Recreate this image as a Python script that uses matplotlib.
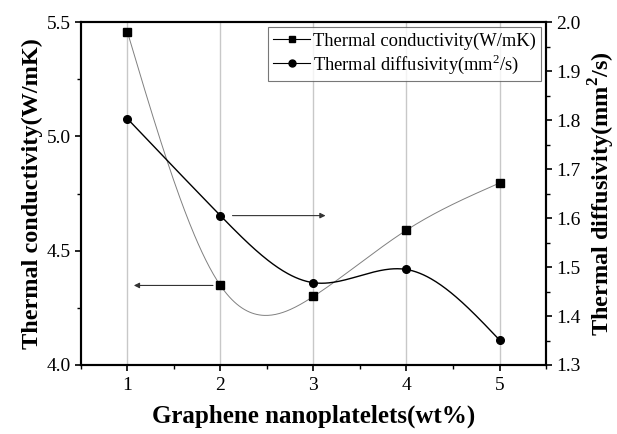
import matplotlib
matplotlib.use('Agg')
import matplotlib.pyplot as plt
from matplotlib.lines import Line2D
from matplotlib.ticker import MultipleLocator
import numpy as np

##############################################################################
## Data

gnp = [1, 2, 3, 4, 5]  # wt%
conductivity = [5.458, 4.348, 4.30, 4.59, 4.796]  # W/mK
diffusivity = [1.803, 1.605, 1.468, 1.495, 1.351]  # mm2/s

plt.rcParams['font.family'] = ['Liberation Serif', 'DejaVu Serif']
plt.rcParams['mathtext.fontset'] = 'custom'
plt.rcParams['mathtext.rm'] = 'Liberation Serif'
plt.rcParams['mathtext.bf'] = 'Liberation Serif:bold'


def spline(x, y, n=300):
    # natural cubic spline through the points, like Origin's spline connect
    x = np.asarray(x, float)
    y = np.asarray(y, float)
    k = len(x)
    h = np.diff(x)
    A = np.zeros((k, k))
    b = np.zeros(k)
    A[0, 0] = 1
    A[-1, -1] = 1
    for i in range(1, k - 1):
        A[i, i - 1] = h[i - 1]
        A[i, i] = 2 * (h[i - 1] + h[i])
        A[i, i + 1] = h[i]
        b[i] = 6 * ((y[i + 1] - y[i]) / h[i] - (y[i] - y[i - 1]) / h[i - 1])
    M = np.linalg.solve(A, b)
    xs = np.linspace(x[0], x[-1], n)
    ys = np.empty_like(xs)
    for j, t in enumerate(xs):
        i = min(np.searchsorted(x, t, side='right') - 1, k - 2)
        a = x[i + 1] - t
        c = t - x[i]
        ys[j] = (M[i] * a**3 + M[i + 1] * c**3) / (6 * h[i]) \
            + (y[i] / h[i] - M[i] * h[i] / 6) * a \
            + (y[i + 1] / h[i] - M[i + 1] * h[i] / 6) * c
    return xs, ys


##############################################################################
## Plotting

fig = plt.figure(figsize=(6.17, 4.34), dpi=100)
ax = fig.add_axes([0.131, 0.159, 0.754, 0.79])
ax2 = ax.twinx()

xs, ys = spline(gnp, conductivity)
ax.plot(xs, ys, color='#808080', lw=0.7, zorder=3)
ax.plot(gnp, conductivity, 's', color='black', ms=5.5, zorder=4)

xs, ys = spline(gnp, diffusivity)
ax2.plot(xs, ys, color='black', lw=1.0, zorder=3)
ax2.plot(gnp, diffusivity, 'o', color='black', ms=5.5, zorder=4)

ax.set_xlim(0.5, 5.5)
ax.set_ylim(4.0, 5.5)
ax2.set_ylim(1.3, 2.0)

ax.xaxis.set_major_locator(MultipleLocator(1))
ax.xaxis.set_minor_locator(MultipleLocator(0.5))
ax.yaxis.set_major_locator(MultipleLocator(0.5))
ax.yaxis.set_minor_locator(MultipleLocator(0.25))
ax2.yaxis.set_major_locator(MultipleLocator(0.1))
ax2.yaxis.set_minor_locator(MultipleLocator(0.05))
ax.yaxis.set_major_formatter('{x:.1f}')
ax2.yaxis.set_major_formatter('{x:.1f}')

ax.grid(axis='x', color='#c8c8c8', lw=1.0)
ax.set_axisbelow(True)

for a in (ax, ax2):
    a.tick_params(which='major', direction='out', length=4, width=1.2, labelsize=14, pad=3)
    a.tick_params(which='minor', direction='out', length=3, width=1.0)
    for s in a.spines.values():
        s.set_linewidth(1.5)
ax.tick_params(axis='x', pad=5)

ax.set_xlabel('Graphene nanoplatelets(wt%)', fontsize=18, fontweight='bold', labelpad=7)
ax.set_ylabel('Thermal conductivity(W/mK)', fontsize=17.5, fontweight='bold', labelpad=3)
ax2.set_ylabel('Thermal diffusivity(mm$^\\mathbf{2}$/s)', fontsize=17.5, fontweight='bold', labelpad=5)

# arrows pointing to each axis
ax.annotate('', xy=(1.07, 4.348), xytext=(1.92, 4.348),
            arrowprops=dict(arrowstyle='-|>', color='#333333', lw=0.8,
                            mutation_scale=8, shrinkA=0, shrinkB=0))
ax2.annotate('', xy=(3.13, 1.605), xytext=(2.13, 1.605),
             arrowprops=dict(arrowstyle='-|>', color='#333333', lw=0.8,
                             mutation_scale=8, shrinkA=0, shrinkB=0))

handles = [Line2D([], [], color='black', lw=0.8, marker='s', ms=5),
           Line2D([], [], color='black', lw=0.8, marker='o', ms=5)]
labels = ['Thermal conductivity(W/mK)', 'Thermal diffusivity(mm$^2$/s)']
leg = ax2.legend(handles, labels, loc='upper right', fontsize=13.3, frameon=True,
                 fancybox=False, edgecolor='#555555', handlelength=2.0,
                 handletextpad=0.15, borderpad=0.3, labelspacing=0.15,
                 borderaxespad=0.25)
leg.get_frame().set_linewidth(0.8)

fig.savefig('out.png', dpi=100)
